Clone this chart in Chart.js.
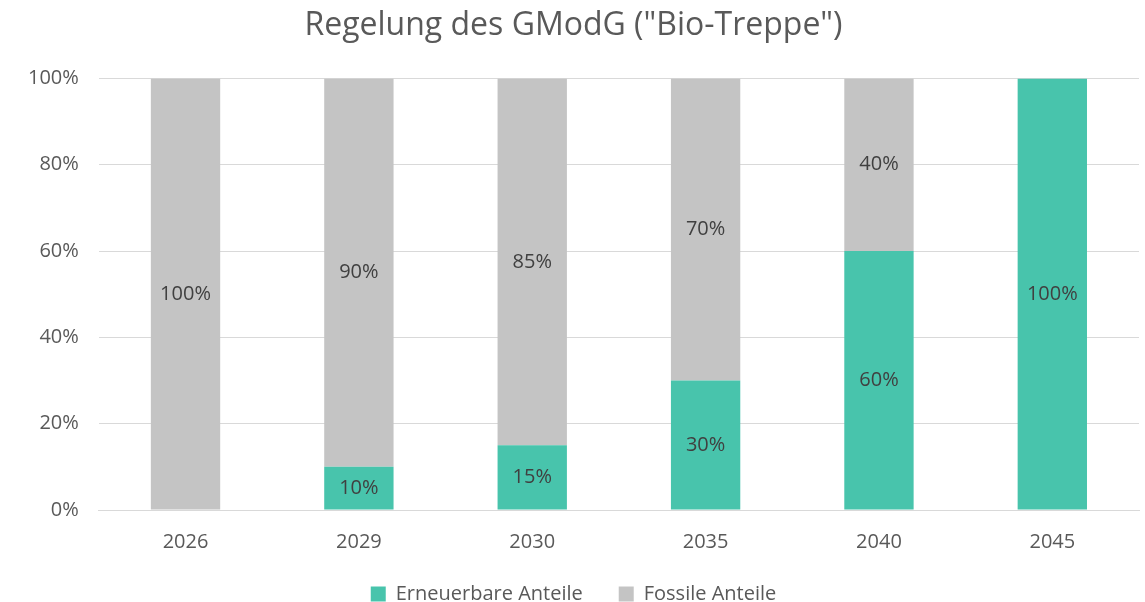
<!DOCTYPE html>
<html lang="de">
<head>
<meta charset="UTF-8">
<title>Bio-Treppe</title>
<script src="https://cdn.jsdelivr.net/npm/chart.js"></script>
<style>
    body { margin: 0; background: #fff; }
    .box { width: 1145px; height: 602px; position: relative; }
</style>
</head>
<body>
<div class="box"><canvas id="wykres"></canvas></div>
<script>
    const jahre = ['2026', '2029', '2030', '2035', '2040', '2045'];
    const erneuerbar = [0, 10, 15, 30, 60, 100];
    const fossil = [100, 90, 85, 70, 40, 0];
    const yTicks = [0, 20, 40, 60, 80, 100];

    const schrift = "'Open Sans', 'Noto Sans', sans-serif";
    const grau = '#595959';

    // Werte mittig in die Balken schreiben
    const beschriftung = {
        id: 'beschriftung',
        afterDatasetsDraw(chart) {
            const ctx = chart.ctx;
            ctx.save();
            ctx.font = '20px ' + schrift;
            ctx.fillStyle = '#404040';
            ctx.textAlign = 'center';
            ctx.textBaseline = 'middle';
            chart.data.datasets.forEach((ds, i) => {
                chart.getDatasetMeta(i).data.forEach((bar, j) => {
                    if (!ds.data[j]) return;
                    const mitte = (bar.y + bar.base) / 2;
                    ctx.fillText(ds.data[j] + '%', bar.x, mitte);
                });
            });
            ctx.restore();
        }
    };

    new Chart(document.getElementById('wykres'), {
        type: 'bar',
        data: {
            labels: jahre,
            datasets: [{
                label: 'Erneuerbare Anteile',
                data: erneuerbar,
                backgroundColor: '#48C4AC',
                categoryPercentage: 1,
                barPercentage: 0.4
            }, {
                label: 'Fossile Anteile',
                data: fossil,
                backgroundColor: '#C4C4C4',
                categoryPercentage: 1,
                barPercentage: 0.4
            }]
        },
        options: {
            responsive: true,
            maintainAspectRatio: false,
            animation: false,
            layout: { padding: { left: 8, right: 6, top: 5, bottom: -12 } },
            scales: {
                x: {
                    stacked: true,
                    grid: { display: false },
                    border: { color: '#D9D9D9', width: 1 },
                    ticks: { color: grau, font: { family: schrift, size: 20 }, padding: 12 },
                    afterFit: axis => { axis.height = 64; }
                },
                y: {
                    stacked: true,
                    min: 0,
                    max: 100,
                    afterBuildTicks: axis => { axis.ticks = yTicks.map(v => ({ value: v })); },
                    grid: { color: '#D9D9D9', lineWidth: 1, drawTicks: false },
                    border: { display: false },
                    ticks: {
                        color: grau,
                        font: { family: schrift, size: 20 },
                        padding: 20,
                        callback: v => v + '%'
                    }
                }
            },
            plugins: {
                title: {
                    display: true,
                    text: 'Regelung des GModG ("Bio-Treppe")',
                    color: grau,
                    font: { family: schrift, size: 32, weight: 'normal' },
                    padding: { top: 2, bottom: 33 }
                },
                legend: {
                    position: 'bottom',
                    labels: {
                        color: grau,
                        font: { family: schrift, size: 20 },
                        boxWidth: 15,
                        boxHeight: 15,
                        padding: 10,
                        // etwas mehr Abstand zwischen den Einträgen
                        generateLabels: chart => {
                            const items = Chart.defaults.plugins.legend.labels.generateLabels(chart);
                            items.forEach((it, i) => {
                                it.lineWidth = 0;
                                if (i < items.length - 1) it.text += '     ';
                            });
                            return items;
                        }
                    }
                },
                tooltip: { enabled: false }
            }
        },
        plugins: [beschriftung]
    });
</script>
</body>
</html>
